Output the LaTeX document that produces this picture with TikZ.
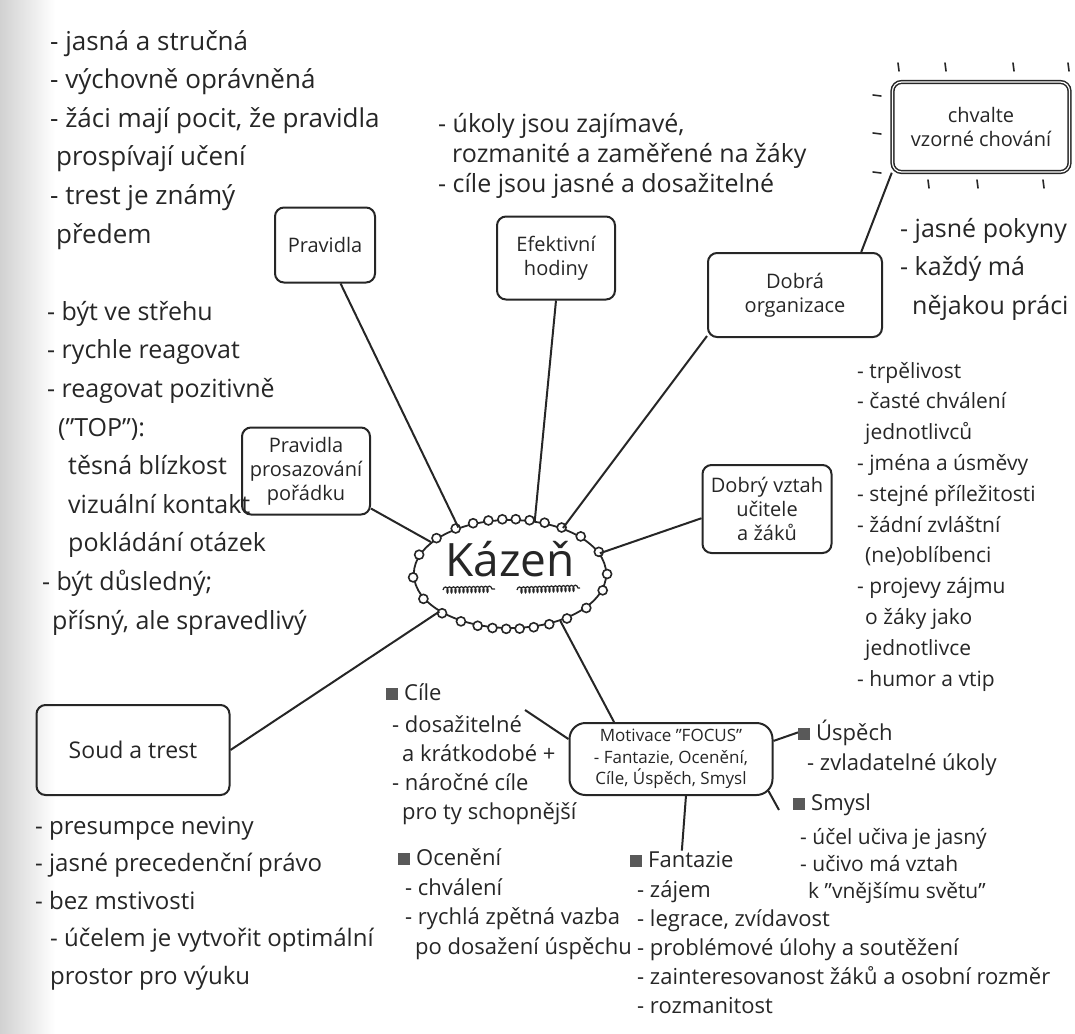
\documentclass[tikz,border=0pt]{standalone}
\usepackage{fontspec}
\setmainfont{Open Sans}
\usetikzlibrary{shapes.geometric,decorations.pathmorphing}

\tikzset{
  note/.style={align=left, anchor=base west, inner sep=0pt, text=black!85},
  card/.style={draw=black!85, line width=2pt, rounded corners=9pt, align=center,
    text=black!85, font=\fontsize{20}{24}\selectfont, inner sep=2pt},
  link/.style={draw=black!85, line width=2pt},
  tick/.style={draw=black!85, line width=1.6pt, line cap=round},
  bead/.style={draw=black!85, line width=1.6pt, fill=white},
}
\newcommand{\sqbullet}{\textcolor{black!65}{\rule{12pt}{12pt}}\hspace{6pt}}

\begin{document}
\begin{tikzpicture}[x=1pt, y=-1pt]
	\useasboundingbox (0,0) rectangle (1075,1033);
	\shade[left color=black!18, right color=white] (0,0) rectangle (55,1033);

	% centre
	\node[draw=black!85, line width=1.8pt, ellipse, minimum width=192pt, minimum height=108pt,
		font=\fontsize{46}{50}\selectfont, text=black!85, text height=32pt, text depth=28pt] (kazen) at (510,574) {Kázeň};
	\foreach \a in {0,14,...,350} \draw[bead] (kazen.\a) circle (4.5pt);
	\draw[black!85, line width=1.2pt, decorate, decoration={coil, amplitude=3pt, segment length=4pt}] (443,590) -- (495,589);
	\draw[black!85, line width=1.2pt, decorate, decoration={coil, amplitude=3pt, segment length=4pt}] (517,590) -- (580,588);

	% boxes
	\node[card, minimum width=100pt, minimum height=75pt] (pravidla) at (325,245) {Pravidla};
	\node[card, minimum width=118pt, minimum height=83pt] (efekt) at (556,258) {Efektivní\\hodiny};
	\node[card, minimum width=174pt, minimum height=84pt] (dobra) at (795,295) {Dobrá\\organizace};
	\node[card, double, double distance=1.2pt, line width=1.5pt, minimum width=177pt, minimum height=90pt] (chval) at (981,127) {chvalte\\vzorné chování};
	\node[card, minimum width=128pt, minimum height=87pt] (prosaz) at (306,471) {Pravidla\\prosazování\\pořádku};
	\node[card, minimum width=129pt, minimum height=88pt] (vztah) at (767,509) {Dobrý vztah\\učitele\\a žáků};
	\node[card, minimum width=193pt, minimum height=90pt, font=\fontsize{23}{27}\selectfont] (soud) at (133,750) {Soud a trest};
	\node[card, rounded corners=16pt, minimum width=203pt, minimum height=72pt, font=\fontsize{17}{21.5}\selectfont] (motiv) at (671,759) {Motivace "FOCUS"\\- Fantazie, Ocenění,\\Cíle, Úspěch, Smysl};

	% sparkle around the praise box
	\foreach \tx in {898,945,1013,1068} \draw[tick] (\tx,63) -- (\tx+1,71);
	\foreach \ty in {95,133,172} \draw[tick] (873,\ty) -- (881,\ty+1);
	\foreach \tx in {928,977,1043} \draw[tick] (\tx,180) -- (\tx+1,188);

	% notes (placed at the baseline of their last line)
	\node[note, font=\fontsize{26}{38.6}\selectfont] (pravidlaNote) at (50,243) {- jasná a stručná\\- výchovně oprávněná\\- žáci mají pocit, že pravidla\\\hspace*{6pt}prospívají učení\\- trest je známý\\\hspace*{6pt}předem};
	\node[note, font=\fontsize{25}{30}\selectfont] (efektNote) at (438,192) {- úkoly jsou zajímavé,\\\hspace*{14pt}rozmanité a zaměřené na žáky\\- cíle jsou jasné a dosažitelné};
	\node[note, font=\fontsize{25}{38.5}\selectfont] (dobraNote) at (900,314) {- jasné pokyny\\- každý má\\\hspace*{12pt}nějakou práci};
	\node[note, font=\fontsize{25}{38.6}\selectfont] (prosazNote) at (42,629) {\hspace*{5pt}- být ve střehu\\\hspace*{5pt}- rychle reagovat\\\hspace*{5pt}- reagovat pozitivně\\\hspace*{16pt}("TOP"):\\\hspace*{26pt}těsná blízkost\\\hspace*{26pt}vizuální kontakt\\\hspace*{26pt}pokládání otázek\\- být důsledný;\\\hspace*{10pt}přísný, ale spravedlivý};
	\node[note, font=\fontsize{21}{30.8}\selectfont] (vztahNote) at (857,686) {- trpělivost\\- časté chválení\\\hspace*{8pt}jednotlivců\\- jména a úsměvy\\- stejné příležitosti\\- žádní zvláštní\\\hspace*{8pt}(ne)oblíbenci\\- projevy zájmu\\\hspace*{8pt}o žáky jako\\\hspace*{8pt}jednotlivce\\- humor a vtip};
	\node[note, font=\fontsize{24}{37.5}\selectfont] (soudNote) at (35,984) {- presumpce neviny\\- jasné precedenční právo\\- bez mstivosti\\\hspace*{15pt}- účelem je vytvořit optimální\\\hspace*{15pt}prostor pro výuku};

	% FOCUS items
	\node[note, font=\fontsize{22}{29}\selectfont] (cile) at (386,700) {\sqbullet Cíle};
	\node[note, font=\fontsize{22}{29}\selectfont] (cileNote) at (392,819) {- dosažitelné\\\hspace*{10pt}a krátkodobé +\\- náročné cíle\\\hspace*{10pt}pro ty schopnější};
	\node[note, font=\fontsize{22}{29.5}\selectfont] (oceneni) at (398,865) {\sqbullet Ocenění};
	\node[note, font=\fontsize{22}{29.5}\selectfont] (oceneniNote) at (405,954) {- chválení\\- rychlá zpětná vazba\\\hspace*{10pt}po dosažení úspěchu};
	\node[note, font=\fontsize{22}{29}\selectfont] (fantazie) at (630,867) {\sqbullet Fantazie};
	\node[note, font=\fontsize{22}{29}\selectfont] (fantazieNote) at (637,1013) {- zájem\\- legrace, zvídavost\\- problémové úlohy a soutěžení\\- zainteresovanost žáků a osobní rozměr\\- rozmanitost};
	\node[note, font=\fontsize{22}{29}\selectfont] (uspech) at (798,740) {\sqbullet Úspěch};
	\node[note, font=\fontsize{22}{29}\selectfont] (uspechNote) at (807,770) {- zvladatelné úkoly};
	\node[note, font=\fontsize{22}{27}\selectfont] (smysl) at (793,810) {\sqbullet Smysl};
	\node[note, font=\fontsize{21}{27}\selectfont] (smyslNote) at (800,898) {- účel učiva je jasný\\- učivo má vztah\\\hspace*{8pt}k "vnějšímu světu"};

	\coordinate (cileEnd) at (525,710);
	\coordinate (smyslEnd) at (779,810);

	% links
	\draw[link] (pravidla.-68) -- (kazen.138);
	\draw[link] (efekt.south) -- (kazen.65);
	\draw[link] (dobra.205) -- (kazen.41);
	\draw[link] (vztah.188) -- (kazen.13);
	\draw[link] (prosaz.-30) -- (kazen.158);
	\draw[link] (soud.east) -- (kazen.208);
	\draw[link] (kazen.-43) -- (motiv.147);
	\draw[link] (chval.south west) -- (dobra.33);

	\draw[link] (motiv.169) -- (cileEnd);
	\draw[link] (motiv.10) -- (uspech.west);
	\draw[link] ([xshift=-5pt,yshift=5pt]motiv.south east) -- (smyslEnd);
	\draw[link] (motiv.-68) -- (fantazie.north);
\end{tikzpicture}
\end{document}
